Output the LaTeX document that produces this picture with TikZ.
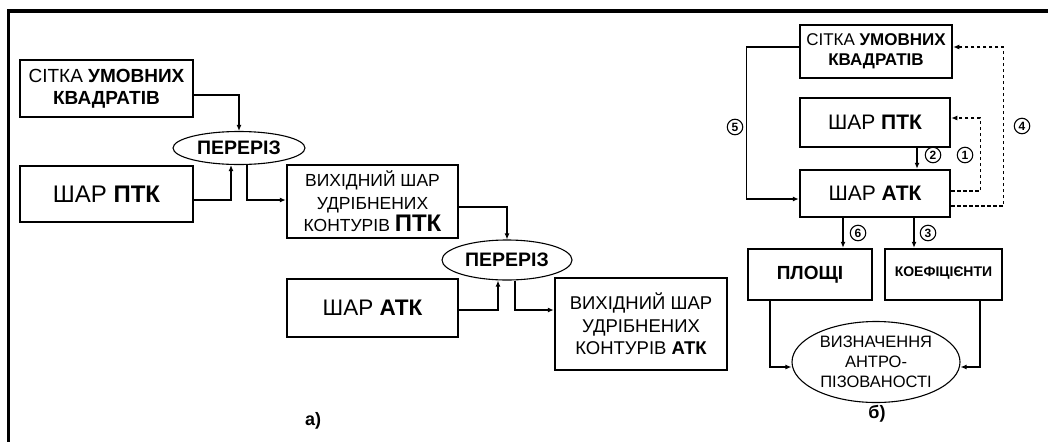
\documentclass[tikz,border=0pt]{standalone}
\usepackage{fontspec}
\setmainfont{Liberation Sans}
\usetikzlibrary{arrows.meta,shapes.geometric,calc}
\newcommand{\fs}[2]{\fontsize{#1}{#2}\selectfont}
\begin{document}
\begin{tikzpicture}[x=1pt,y=-1pt,
  box/.style={draw, line width=2.5pt, inner sep=0pt, align=center},
  ell/.style={ellipse, draw, line width=1.1pt, inner sep=0pt, align=center},
  arr/.style={line width=1.1pt, -{Latex[length=6pt,width=5pt]}},
  darr/.style={arr, dashed, dash pattern=on 3.5pt off 2.5pt},
  num/.style={circle, draw, line width=1.1pt, inner sep=0pt, minimum size=15.5pt, font=\fs{12}{12}\bfseries},
  lab/.style={font=\fs{18}{18}\bfseries}
]
\useasboundingbox (0,0) rectangle (1048,442);
% frame
\draw[line width=3.5pt] (1048,11) -- (8.5,11) -- (8.5,442);

% ---------- part a ----------
\node[box, minimum width=173pt, minimum height=57pt, font=\fs{19}{22}] (s1) at (106.5,88.5)
  {СІТКА \textbf{УМОВНИХ}\\\textbf{КВАДРАТІВ}};
\node[ell, minimum width=132pt, minimum height=33pt, font=\fs{19.5}{19}\bfseries] (e1) at (239,148) {ПЕРЕРІЗ};
\node[box, minimum width=173pt, minimum height=56pt, font=\fs{24}{24}] (p1) at (106.5,194) {ШАР \textbf{ПТК}};
\node[box, minimum width=171pt, minimum height=73pt, font=\fs{17.5}{22.5}] (v1) at (372.5,201.5)
  {ВИХІДНИЙ ШАР\\УДРІБНЕНИХ\\КОНТУРІВ {\fs{24}{22.5}\bfseries ПТК}};
\node[ell, minimum width=130pt, minimum height=40pt, font=\fs{19.5}{19}\bfseries] (e2) at (507,260) {ПЕРЕРІЗ};
\node[box, minimum width=171pt, minimum height=58pt, font=\fs{22.5}{22}] (a1) at (372.5,308) {ШАР \textbf{АТК}};
\node[box, minimum width=172pt, minimum height=92pt, font=\fs{18.5}{22.5}] (v2) at (641,324)
  {ВИХІДНИЙ ШАР\\УДРІБНЕНИХ\\КОНТУРІВ \textbf{АТК}};
\node[lab] (la) at (313,421) {а)};

\draw[arr] ([yshift=-6.5pt]s1.east) -| (e1.north);
\draw[arr] ([yshift=-6pt]p1.east) -| ([xshift=-8pt]e1.south);
\draw[arr] ([xshift=8pt]e1.south) |- ([yshift=1.5pt]v1.west);
\draw[arr] ([yshift=-5.5pt]v1.east) -| (e2.north);
\draw[arr] ([yshift=-2pt]a1.east) -| ([xshift=-9pt]e2.south);
\draw[arr] ([xshift=8pt]e2.south) |- ([yshift=14pt]v2.west);

% ---------- part b ----------
\node[box, minimum width=152pt, minimum height=53pt, font=\fs{17}{20.5}] (s2) at (876,51.5)
  {СІТКА \textbf{УМОВНИХ}\\\textbf{КВАДРАТІВ}};
\node[box, minimum width=150pt, minimum height=49pt, font=\fs{21}{21}] (p2) at (875,122.5) {ШАР \textbf{ПТК}};
\node[box, minimum width=150pt, minimum height=47pt, font=\fs{21}{21}] (a2) at (875,193.5) {ШАР \textbf{АТК}};
\node[box, minimum width=124pt, minimum height=51pt, font=\fs{19}{19}\bfseries] (pl) at (810,274.5) {ПЛОЩІ};
\node[box, minimum width=117pt, minimum height=51pt, font=\fs{14}{14}\bfseries] (ko) at (943.5,274.5)
  {\raisebox{6pt}{КОЕФІЦІЄНТИ}};
\node[ell, minimum width=168pt, minimum height=81pt, font=\fs{16.5}{20}] (e3) at (876,362)
  {ВИЗНАЧЕННЯ\\АНТРО-\\ПІЗОВАНОСТІ};
\node[lab] (lb) at (877,414) {б)};

\draw[arr] ([xshift=42pt]p2.south) -- ([xshift=42pt]a2.north);
\draw[darr] ([yshift=2.5pt]a2.east) -- ++(29,0) |- ([yshift=4.5pt]p2.east);
\draw[darr] ([yshift=-12.5pt]a2.east) -- ++(52,0) |- ([yshift=4.5pt]s2.east);
\draw[arr] ([yshift=4.5pt]s2.west) -- ++(-52,0) |- ([yshift=-5.5pt]a2.west);
\draw[arr] ([xshift=-32pt]a2.south) -- ([xshift=-32pt]a2.south |- pl.north);
\draw[arr] ([xshift=39pt]a2.south) -- ([xshift=39pt]a2.south |- ko.north);
\draw[arr] ([xshift=-40pt]pl.south) |- ([yshift=-5pt]e3.west);
\draw[arr] ([xshift=36.5pt]ko.south) |- ([yshift=-5pt]e3.east);

\node[num] (n5) at (735,127) {5};
\node[num] (n2) at (933,155) {2};
\node[num] (n1) at (965,155) {1};
\node[num] (n4) at (1022,126) {4};
\node[num] (n6) at (858,233) {6};
\node[num] (n3) at (928,233) {3};
\end{tikzpicture}
\end{document}
